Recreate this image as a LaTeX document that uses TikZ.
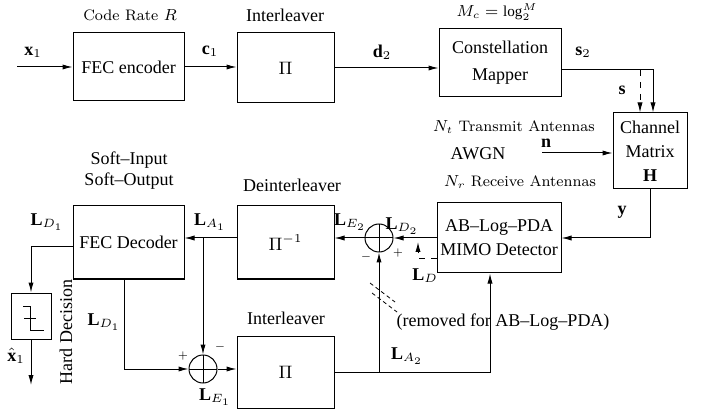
\documentclass[tikz,border=0pt]{standalone}
\usepackage{fontspec}
\setmainfont{Liberation Serif}
\usepackage{tikz}
\usetikzlibrary{arrows.meta, positioning}

\tikzset{
  blockBox/.style={draw, line width=0.5pt, align=center, inner sep=1pt},
  sumNode/.style={draw, circle, line width=0.5pt, minimum size=14pt, inner sep=0pt,
    path picture={\draw (path picture bounding box.north) -- (path picture bounding box.south)
                        (path picture bounding box.west) -- (path picture bounding box.east);}},
  sigArrow/.style={-{Latex[length=5pt,width=2.6pt]}, line width=0.5pt},
  cmLabel/.style={font=\fontfamily{lmr}\fontsize{7.6}{9.5}\selectfont},
}

\begin{document}
\begin{tikzpicture}[x=0.5pt, y=-0.5pt, every node/.style={font=\fontsize{9}{12}\selectfont}]
\useasboundingbox (0,0) rectangle (705,416);

% transmitter
\node[blockBox, minimum width=55.5pt, minimum height=34pt] (fecEnc) at (128.5,67) {FEC encoder};
\node[blockBox, minimum width=48.5pt, minimum height=35pt] (interTop) at (285.5,68) {$\Pi$};
\node[blockBox, minimum width=61pt, minimum height=34pt, font=\fontsize{9}{13.5}\selectfont] (mapper) at (500,63) {Constellation\\Mapper};
\node[blockBox, minimum width=37pt, minimum height=38pt] (channel) at (650,151) {Channel\\Matrix\\$\mathbf{H}$};

% receiver
\node[blockBox, minimum width=62pt, minimum height=35pt] (detector) at (499,238) {AB–Log–PDA\\MIMO Detector};
\node[sumNode] (sumDet) at (379,238) {};
\node[blockBox, minimum width=48.5pt, minimum height=36.5pt] (deint) at (285.5,242.5) {$\Pi^{-1}$};
\node[blockBox, minimum width=55.5pt, minimum height=36.5pt] (fecDec) at (128.5,242.5) {FEC Decoder};
\node[sumNode] (sumDec) at (203,369) {};
\node[blockBox, minimum width=48.5pt, minimum height=36pt] (interBot) at (285.5,372) {$\Pi$};
\node[blockBox, minimum width=20pt, minimum height=23pt] (hardBox) at (31,316) {};
\draw (23,306) -- (30,306) -- (30,330) -- (44,330) (24,318) -- (36,318);

% transmitter links
\coordinate (xIn) at (17,67);
\coordinate (sTap) at (640,70);
\coordinate (nIn) at (542,153);
\draw[sigArrow] (xIn) -- (fecEnc.west);
\draw[sigArrow] (fecEnc.east) -- (fecEnc.east -| interTop.west);
\draw[sigArrow] (interTop.east) -- (interTop.east -| mapper.west);
\draw[sigArrow] (mapper.east |- sTap) -| ([xshift=1.5pt]channel.north);
\draw[sigArrow, dashed] (sTap) -- (sTap |- channel.north);
\draw[sigArrow] (nIn) -- (nIn -| channel.west);
\draw[sigArrow] (channel.south) |- (detector.east);

% receiver links
\coordinate (la1Tap) at (sumDec |- sumDet);
\coordinate (la2Tap) at (sumDet |- interBot.east);
\coordinate (ldBend) at (418,259);
\coordinate (xHatOut) at (31,385);
\draw[sigArrow] (detector.west) -- (sumDet.east);
\draw[sigArrow] (sumDet.west) -- (sumDet.west -| deint.east);
\draw[sigArrow] (deint.west |- sumDet) -- (fecDec.east |- sumDet);
\draw[sigArrow] (la1Tap) -- (sumDec.north);
\draw[sigArrow] ([xshift=-2.25pt]fecDec.south) |- (sumDec.west);
\draw[sigArrow] (sumDec.east) -- (sumDec.east -| interBot.west);
\draw[sigArrow] (interBot.east) -| ([xshift=-4.5pt]detector.south);
\draw[sigArrow] (la2Tap) -- (sumDet.south);
\draw[sigArrow, dashed] (detector.west |- ldBend) -- (ldBend) -- ([yshift=-2pt]ldBend |- sumDet);
\draw[sigArrow] ([yshift=-2.25pt]fecDec.west) -| (hardBox.north);
\draw[sigArrow] (hardBox.south) -- (xHatOut);
\draw[dash pattern=on 2pt off 1.5pt, line width=0.4pt] (370,283) -- (395,302) (372,293) -- (397,312);

% labels
\node[cmLabel] (rateLbl) at (130,15) {Code Rate $R$};
\node (interTopLbl) at (285,15) {Interleaver};
\node[cmLabel, inner sep=1pt] (mcLbl) at (497,12) {$M_c=\log_2^M$};
\node (x1Lbl) at (33,52) {$\mathbf{x}_1$};
\node (c1Lbl) at (210,51) {$\mathbf{c}_1$};
\node (d2Lbl) at (382,52) {$\mathbf{d}_2$};
\node (s2Lbl) at (583,52) {$\mathbf{s}_2$};
\node (sLbl) at (622,90) {$\mathbf{s}$};
\node[cmLabel, inner sep=1pt] (ntLbl) at (514,127) {$N_t$ Transmit Antennas};
\node[inner sep=1pt] (nLbl) at (546,143) {$\mathbf{n}$};
\node (awgnLbl) at (478,154) {AWGN};
\node[cmLabel] (nrLbl) at (520,182) {$N_r$ Receive Antennas};
\node (yLbl) at (622,212) {$\mathbf{y}$};
\node[align=center, font=\fontsize{9}{10.5}\selectfont] (sisoLbl) at (129,171) {Soft–Input\\Soft–Output};
\node (deintLbl) at (292,185) {Deinterleaver};
\node (ld1TopLbl) at (47,222) {$\mathbf{L}_{D_1}$};
\node (la1Lbl) at (210,222) {$\mathbf{L}_{A_1}$};
\node (le2Lbl) at (350,222) {$\mathbf{L}_{E_2}$};
\node (ld2Lbl) at (402,226) {$\mathbf{L}_{D_2}$};
\node (plusDet) at (398,253) {\tiny$+$};
\node (minusDet) at (366,257) {\tiny$-$};
\node (ldLbl) at (425,276) {$\mathbf{L}_{D}$};
\node (removedLbl) at (503,322) {(removed for AB–Log–PDA)};
\node (la2Lbl) at (407,356) {$\mathbf{L}_{A_2}$};
\node (interBotLbl) at (286,318) {Interleaver};
\node (ld1Lbl) at (104,322) {$\mathbf{L}_{D_1}$};
\node (plusDec) at (183,356) {\tiny$+$};
\node (minusDec) at (220,347) {\tiny$-$};
\node (le1Lbl) at (215,397) {$\mathbf{L}_{E_1}$};
\node (xHatLbl) at (16,356) {$\hat{\mathbf{x}}_1$};
\node[rotate=90] (hardLbl) at (66,332) {Hard Decision};
\end{tikzpicture}
\end{document}
